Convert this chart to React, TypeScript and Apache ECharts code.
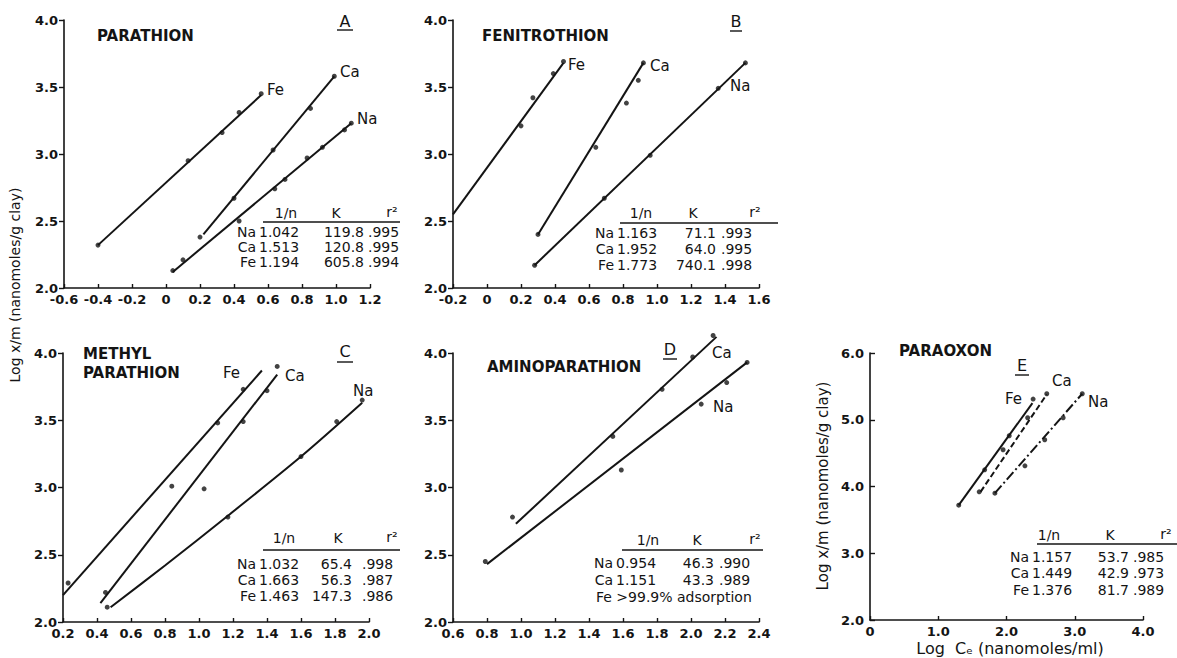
import React, { useEffect, useRef } from "react";
import * as echarts from "echarts";

// ---------- DATA (log Ce, log x/m) ----------
// Panel A: PARATHION
const A_FE_POINTS = [[-0.4, 2.32], [0.13, 2.95], [0.33, 3.16], [0.43, 3.31], [0.56, 3.45]];
const A_FE_FIT = [[-0.4, 2.32], [0.56, 3.44]];
const A_CA_POINTS = [[0.2, 2.38], [0.4, 2.67], [0.63, 3.03], [0.85, 3.34], [0.99, 3.58]];
const A_CA_FIT = [[0.22, 2.4], [0.99, 3.58]];
const A_NA_POINTS = [[0.04, 2.13], [0.1, 2.21], [0.43, 2.5], [0.64, 2.74], [0.7, 2.81], [0.83, 2.97], [0.92, 3.05], [1.05, 3.18], [1.09, 3.23]];
const A_NA_FIT = [[0.04, 2.12], [1.09, 3.23]];

// Panel B: FENITROTHION
const B_FE_POINTS = [[0.2, 3.21], [0.27, 3.42], [0.39, 3.6], [0.45, 3.69]];
const B_FE_FIT = [[-0.2, 2.55], [0.45, 3.68]];
const B_CA_POINTS = [[0.3, 2.4], [0.64, 3.05], [0.82, 3.38], [0.89, 3.55], [0.92, 3.68]];
const B_CA_FIT = [[0.3, 2.4], [0.92, 3.68]];
const B_NA_POINTS = [[0.28, 2.17], [0.69, 2.67], [0.96, 2.99], [1.36, 3.49], [1.52, 3.68]];
const B_NA_FIT = [[0.28, 2.17], [1.52, 3.68]];

// Panel C: METHYL PARATHION
const C_FE_POINTS = [[0.23, 2.29], [0.84, 3.01], [1.11, 3.48], [1.26, 3.73]];
const C_FE_FIT = [[0.2, 2.2], [1.37, 3.87]];
const C_CA_POINTS = [[0.45, 2.22], [1.03, 2.99], [1.26, 3.49], [1.4, 3.72], [1.46, 3.9]];
const C_CA_FIT = [[0.42, 2.14], [1.46, 3.84]];
const C_NA_POINTS = [[0.46, 2.11], [1.17, 2.78], [1.6, 3.23], [1.81, 3.49], [1.96, 3.65]];
const C_NA_FIT = [[0.48, 2.11], [0.8, 2.42], [1.17, 2.79], [1.6, 3.23], [1.96, 3.63]];

// Panel D: AMINOPARATHION
const D_CA_POINTS = [[0.95, 2.78], [1.54, 3.38], [1.83, 3.73], [2.01, 3.97], [2.13, 4.13]];
const D_CA_FIT = [[0.97, 2.73], [2.15, 4.12]];
const D_NA_POINTS = [[0.79, 2.45], [1.59, 3.13], [2.06, 3.62], [2.21, 3.78], [2.33, 3.93]];
const D_NA_FIT = [[0.8, 2.43], [2.33, 3.93]];

// Panel E: PARAOXON
const E_FE_POINTS = [[1.3, 3.72], [1.68, 4.25], [2.04, 4.76], [2.39, 5.31]];
const E_FE_FIT = [[1.3, 3.72], [2.38, 5.25]];
const E_CA_POINTS = [[1.6, 3.92], [1.95, 4.55], [2.31, 5.03], [2.59, 5.39]];
const E_CA_FIT = [[1.62, 3.92], [2.59, 5.38]];
const E_NA_POINTS = [[1.83, 3.9], [2.27, 4.31], [2.56, 4.7], [2.83, 5.03], [3.11, 5.39]];
const E_NA_FIT = [[1.83, 3.9], [3.11, 5.39]];

// Tables: ion, 1/n, K, r2
const TABLE_HEAD = ["1/n", "K", "r\u00b2"];
const A_TABLE = [["Na", "1.042", "119.8", ".995"], ["Ca", "1.513", "120.8", ".995"], ["Fe", "1.194", "605.8", ".994"]];
const B_TABLE = [["Na", "1.163", "71.1", ".993"], ["Ca", "1.952", "64.0", ".995"], ["Fe", "1.773", "740.1", ".998"]];
const C_TABLE = [["Na", "1.032", "65.4", ".998"], ["Ca", "1.663", "56.3", ".987"], ["Fe", "1.463", "147.3", ".986"]];
const D_TABLE = [["Na", "0.954", "46.3", ".990"], ["Ca", "1.151", "43.3", ".989"]];
const D_FE_NOTE = "Fe >99.9% adsorption";
const E_TABLE = [["Na", "1.157", "53.7", ".985"], ["Ca", "1.449", "42.9", ".973"], ["Fe", "1.376", "81.7", ".989"]];

const TITLES = ["PARATHION", "FENITROTHION", "METHYL", "PARATHION", "AMINOPARATHION", "PARAOXON"];
const PANEL_LETTERS = ["A", "B", "C", "D", "E"];
const Y_LABEL = "Log x/m (nanomoles/g clay)";
const X_LABEL_E = "Log  C\u2091 (nanomoles/ml)";

// ---------- STYLE ----------
const INK = "#141414";
const FONT = "DejaVu Sans";

function fmt(v: number) {
  if (Math.abs(v) < 1e-9) return "0";
  return Number(v).toFixed(1);
}

function xAxis(gridIndex: number, min: number, max: number, interval: number) {
  return {
    type: "value",
    gridIndex,
    min,
    max,
    interval,
    axisLine: { show: true, onZero: false, lineStyle: { color: INK, width: 1.6 } },
    axisTick: { show: true, inside: true, length: 4, lineStyle: { color: INK, width: 1.4 } },
    axisLabel: { color: INK, fontSize: 13, fontWeight: "bold", fontFamily: FONT, margin: 5, formatter: fmt },
    splitLine: { show: false },
  };
}

function yAxis(gridIndex: number, min: number, max: number, interval: number, inside: boolean) {
  return {
    type: "value",
    gridIndex,
    min,
    max,
    interval,
    axisLine: { show: true, onZero: false, lineStyle: { color: INK, width: 1.6 } },
    axisTick: { show: true, inside, length: 5, lineStyle: { color: INK, width: 1.4 } },
    axisLabel: { color: INK, fontSize: 13, fontWeight: "bold", fontFamily: FONT, margin: 6, formatter: fmt },
    splitLine: { show: false },
  };
}

function fitSeries(idx: number, data: number[][], dash: any = "solid") {
  return {
    type: "line",
    xAxisIndex: idx,
    yAxisIndex: idx,
    data,
    symbol: "none",
    clip: false,
    silent: true,
    lineStyle: { color: INK, width: 2, type: dash },
  };
}

function pointSeries(idx: number, data: number[][]) {
  return {
    type: "scatter",
    xAxisIndex: idx,
    yAxisIndex: idx,
    data,
    symbol: "circle",
    symbolSize: 5,
    clip: false,
    silent: true,
    itemStyle: { color: INK },
  };
}

function txt(x: number, y: number, text: string, size = 14, weight = "normal", align = "left", extra: any = {}) {
  return {
    type: "text",
    x,
    y,
    silent: true,
    ...extra,
    style: {
      text,
      fill: INK,
      fontSize: size,
      fontWeight: weight,
      fontFamily: FONT,
      textAlign: align,
      textVerticalAlign: "middle",
    },
  };
}

function hline(x1: number, x2: number, y: number, w = 1.4) {
  return { type: "line", silent: true, shape: { x1, y1: y, x2, y2: y }, style: { stroke: INK, lineWidth: w } };
}

type TablePos = { x1n: number; xK: number; xR2: number; yHead: number; h1n: number; hK: number; hR2: number; lx0: number; lx1: number; ly: number; rows: number[] };

const TS = 14;

function table(rows: string[][], p: TablePos) {
  const els: any[] = [
    txt(p.h1n, p.yHead, TABLE_HEAD[0], 14, "normal", "center"),
    txt(p.hK, p.yHead, TABLE_HEAD[1], 14, "normal", "center"),
    txt(p.hR2, p.yHead - 1, TABLE_HEAD[2], 14, "normal", "center"),
    hline(p.lx0, p.lx1, p.ly, 1.6),
  ];
  rows.forEach((r, i) => {
    const y = p.rows[i];
    els.push(txt(p.x1n - 3, y, r[0], TS, "normal", "right"));
    els.push(txt(p.x1n, y, r[1], TS));
    els.push(txt(p.xK, y, r[2], TS, "normal", "right"));
    els.push(txt(p.xR2, y, r[3], TS));
  });
  return els;
}

export default function App() {
  const ref = useRef<HTMLDivElement>(null);

  useEffect(() => {
    if (!ref.current) return;
    const chart = echarts.init(ref.current, null, { renderer: "svg" });

    const graphic: any[] = [
      // shared y label
      txt(15, 285, Y_LABEL, 14, "normal", "center", { rotation: Math.PI / 2 }),
      txt(823, 486, Y_LABEL, 15, "normal", "center", { rotation: Math.PI / 2 }),
      txt(1010, 648, X_LABEL_E, 16, "normal", "center"),
      // titles
      txt(97, 36, TITLES[0], 15, "bold"),
      txt(482, 36, TITLES[1], 15, "bold"),
      txt(83, 354, TITLES[2], 15, "bold"),
      txt(83, 373, TITLES[3], 15, "bold"),
      txt(487, 367, TITLES[4], 15, "bold"),
      txt(899, 351, TITLES[5], 15, "bold"),
      // panel letters
      txt(345, 21, PANEL_LETTERS[0], 16, "normal", "center"),
      hline(337, 353, 30),
      txt(736, 21, PANEL_LETTERS[1], 16, "normal", "center"),
      hline(730, 742, 31),
      txt(345, 351, PANEL_LETTERS[2], 16, "normal", "center"),
      hline(337, 353, 362),
      txt(670, 349, PANEL_LETTERS[3], 16, "normal", "center"),
      hline(663, 677, 359),
      txt(1022, 365, PANEL_LETTERS[4], 16, "normal", "center"),
      hline(1015, 1029, 375),
      // ion labels
      txt(267, 90, "Fe", 15), txt(340, 72, "Ca", 15), txt(357, 119, "Na", 15),
      txt(568, 65, "Fe", 15), txt(650, 66, "Ca", 15), txt(730, 86, "Na", 15),
      txt(223, 373, "Fe", 15), txt(285, 376, "Ca", 15), txt(353, 391, "Na", 15),
      txt(712, 353, "Ca", 15), txt(713, 407, "Na", 15),
      txt(1005, 399, "Fe", 15), txt(1052, 381, "Ca", 15), txt(1088, 402, "Na", 15),
      // tables
      ...table(A_TABLE, { x1n: 259, xK: 364, xR2: 368, yHead: 213, h1n: 286, hK: 336, hR2: 392, lx0: 263, lx1: 400, ly: 222, rows: [232, 247, 262] }),
      ...table(B_TABLE, { x1n: 617, xK: 716, xR2: 721, yHead: 213, h1n: 641, hK: 693, hR2: 755, lx0: 620, lx1: 778, ly: 223, rows: [233, 249, 265] }),
      ...table(C_TABLE, { x1n: 259, xK: 352, xR2: 362, yHead: 538, h1n: 284, hK: 338, hR2: 392, lx0: 263, lx1: 400, ly: 550, rows: [564, 580, 596] }),
      ...table(D_TABLE, { x1n: 616, xK: 714, xR2: 719, yHead: 540, h1n: 648, hK: 697, hR2: 755, lx0: 622, lx1: 763, ly: 550, rows: [563, 580] }),
      txt(596, 597, D_FE_NOTE, TS),
      ...table(E_TABLE, { x1n: 1032, xK: 1129, xR2: 1133, yHead: 535, h1n: 1049, hK: 1110, hR2: 1166, lx0: 1037, lx1: 1177, ly: 544, rows: [557, 573, 590] }),
    ];

    chart.setOption({
      animation: false,
      backgroundColor: "#ffffff",
      grid: [
        { left: 64, top: 20, width: 306, height: 268 },
        { left: 453, top: 20, width: 306, height: 268 },
        { left: 63, top: 353, width: 306, height: 269 },
        { left: 453, top: 353, width: 306, height: 269 },
        { left: 870, top: 353, width: 273, height: 267 },
      ],
      xAxis: [
        xAxis(0, -0.6, 1.2, 0.2),
        xAxis(1, -0.2, 1.6, 0.2),
        xAxis(2, 0.2, 2.0, 0.2),
        xAxis(3, 0.6, 2.4, 0.2),
        xAxis(4, 0, 4, 1),
      ],
      yAxis: [
        yAxis(0, 2, 4, 0.5, false),
        yAxis(1, 2, 4, 0.5, false),
        yAxis(2, 2, 4, 0.5, false),
        yAxis(3, 2, 4, 0.5, false),
        yAxis(4, 2, 6, 1, true),
      ],
      series: [
        fitSeries(0, A_FE_FIT), pointSeries(0, A_FE_POINTS),
        fitSeries(0, A_CA_FIT), pointSeries(0, A_CA_POINTS),
        fitSeries(0, A_NA_FIT), pointSeries(0, A_NA_POINTS),
        fitSeries(1, B_FE_FIT), pointSeries(1, B_FE_POINTS),
        fitSeries(1, B_CA_FIT), pointSeries(1, B_CA_POINTS),
        fitSeries(1, B_NA_FIT), pointSeries(1, B_NA_POINTS),
        fitSeries(2, C_FE_FIT), pointSeries(2, C_FE_POINTS),
        fitSeries(2, C_CA_FIT), pointSeries(2, C_CA_POINTS),
        { ...fitSeries(2, C_NA_FIT), smooth: 0.3 }, pointSeries(2, C_NA_POINTS),
        fitSeries(3, D_CA_FIT), pointSeries(3, D_CA_POINTS),
        fitSeries(3, D_NA_FIT), pointSeries(3, D_NA_POINTS),
        fitSeries(4, E_FE_FIT), pointSeries(4, E_FE_POINTS),
        fitSeries(4, E_CA_FIT, [6, 3]), pointSeries(4, E_CA_POINTS),
        fitSeries(4, E_NA_FIT, [10, 3, 2, 3]), pointSeries(4, E_NA_POINTS),
      ],
      graphic,
    });

    return () => chart.dispose();
  }, []);

  return (
    <div
      ref={ref}
      style={{ position: "fixed", left: 0, top: 0, width: 1177, height: 658, background: "#fff" }}
    />
  );
}
